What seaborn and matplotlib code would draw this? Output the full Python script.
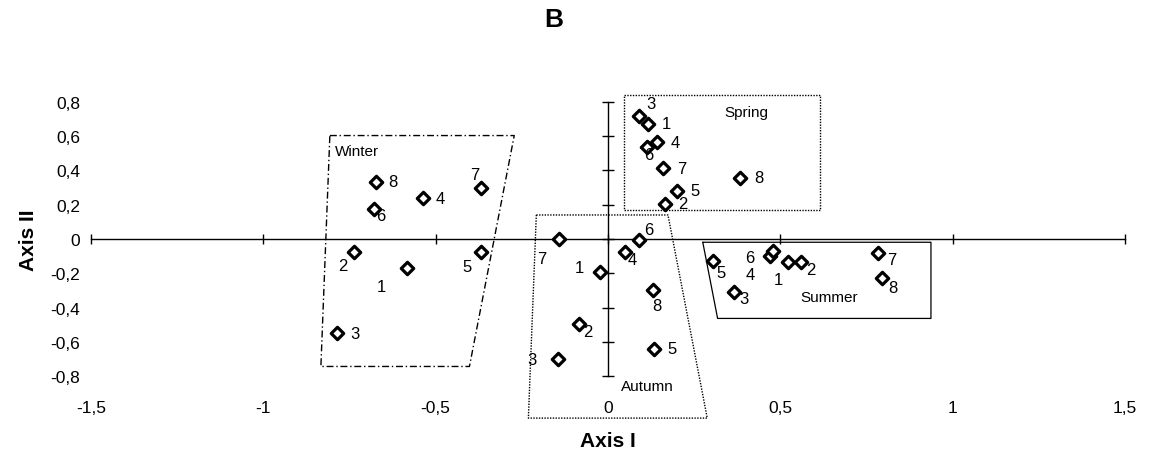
import matplotlib
matplotlib.use("Agg")
import matplotlib.pyplot as plt
import seaborn as sns
import pandas as pd

# ---------------- data ----------------
point_ids = ["1", "2", "3", "4", "5", "6", "7", "8"]

winter_x = [-0.583, -0.736, -0.786, -0.538, -0.368, -0.680, -0.368, -0.674]
winter_y = [-0.169, -0.074, -0.548, 0.237, -0.076, 0.175, 0.299, 0.334]

spring_x = [0.116, 0.165, 0.089, 0.142, 0.199, 0.113, 0.161, 0.382]
spring_y = [0.671, 0.206, 0.719, 0.564, 0.282, 0.538, 0.412, 0.356]

autumn_x = [-0.023, -0.085, -0.145, 0.050, 0.133, 0.091, -0.143, 0.132]
autumn_y = [-0.192, -0.496, -0.700, -0.078, -0.641, -0.008, 0.000, -0.295]

summer_x = [0.523, 0.559, 0.365, 0.470, 0.305, 0.480, 0.784, 0.794]
summer_y = [-0.136, -0.136, -0.311, -0.097, -0.126, -0.072, -0.082, -0.227]

# season enclosures (polygon corners in data units)
winter_box = [(-0.807, 0.603), (-0.272, 0.603), (-0.402, -0.743), (-0.833, -0.743)]
spring_box = [(0.0465, 0.840), (0.616, 0.840), (0.616, 0.169), (0.0465, 0.169)]
autumn_box = [(-0.208, 0.140), (0.174, 0.140), (0.288, -1.044), (-0.231, -1.044)]
summer_box = [(0.275, -0.019), (0.937, -0.019), (0.937, -0.463), (0.318, -0.463)]

x_ticks = [-1.5, -1.0, -0.5, 0.0, 0.5, 1.0, 1.5]
x_tick_labels = ["-1,5", "-1", "-0,5", "0", "0,5", "1", "1,5"]
y_ticks = [0.8, 0.6, 0.4, 0.2, 0.0, -0.2, -0.4, -0.6, -0.8]
y_tick_labels = ["0,8", "0,6", "0,4", "0,2", "0", "-0,2", "-0,4", "-0,6", "-0,8"]

title = "B"
x_label = "Axis I"
y_label = "Axis II"

# label offsets (pixels) for point numbers, per season, order = point_ids
winter_off = [(-26, -19), (-12, -14), (18, 0), (18, 0), (-14, -14), (7, -7), (-6, 13), (17, 0)]
spring_off = [(18, 0), (18, 0), (12, 12), (18, 0), (18, 0), (2, -8), (18, 0), (19, 0)]
autumn_off = [(-21, 4), (9, -7), (-26, 0), (7, -7), (18, 0), (9, 11), (-17, -20), (3, -16)]
summer_off = [(-10, -17), (10, -7), (10, -6), (-20, -19), (8, -12), (-24, -6), (14, -6), (11, -10)]

# ---------------- figure ----------------
sns.set_style("white")
plt.rcParams["font.family"] = ["Liberation Sans", "DejaVu Sans"]
plt.rcParams["text.color"] = "black"
plt.rcParams["axes.labelcolor"] = "black"

fig = plt.figure(figsize=(11.53, 4.56), dpi=100)
ax = fig.add_axes([91 / 1153, 1 - 394.4 / 456, 1034 / 1153, 308.8 / 456])

frames = []
for name, xs, ys in [("Winter", winter_x, winter_y), ("Spring", spring_x, spring_y),
                     ("Autumn", autumn_x, autumn_y), ("Summer", summer_x, summer_y)]:
    frames.append(pd.DataFrame({"season": name, "id": point_ids, "x": xs, "y": ys}))
df = pd.concat(frames, ignore_index=True)

sns.scatterplot(data=df, x="x", y="y", ax=ax, marker="D", s=40, color="white",
                edgecolor="black", linewidth=2.3, zorder=5, legend=False)

offsets = {"Winter": winter_off, "Spring": spring_off, "Autumn": autumn_off, "Summer": summer_off}
for season, grp in df.groupby("season", sort=False):
    offs = offsets[season]
    for i, (_, r) in enumerate(grp.iterrows()):
        ax.annotate(r["id"], (r["x"], r["y"]), xytext=offs[i], textcoords="offset pixels",
                    ha="center", va="center", fontsize=12, color="black", zorder=6)

def draw_box(corners, **kw):
    xs = [c[0] for c in corners] + [corners[0][0]]
    ys = [c[1] for c in corners] + [corners[0][1]]
    ax.plot(xs, ys, color="black", clip_on=False, **kw)

draw_box(winter_box, lw=1.0, linestyle=(0, (5, 2, 1, 2)))
draw_box(spring_box, lw=1.0, linestyle=(0, (1, 1)))
draw_box(autumn_box, lw=1.0, linestyle=(0, (1, 1)))
draw_box(summer_box, lw=0.9, linestyle="-")

ax.text(-0.791, 0.511, "Winter", ha="left", va="center", fontsize=11, color="black")
ax.text(0.401, 0.739, "Spring", ha="center", va="center", fontsize=11, color="black")
ax.text(0.113, -0.859, "Autumn", ha="center", va="center", fontsize=11, color="black")
ax.text(0.643, -0.340, "Summer", ha="center", va="center", fontsize=11, color="black")

ax.set_xlim(-1.5, 1.5)
ax.set_ylim(-0.9, 0.9)

ax.spines["left"].set_visible(False)
ax.spines["bottom"].set_visible(False)
ax.spines["right"].set_position(("data", 0))
ax.spines["right"].set_bounds(-0.8, 0.8)
ax.spines["top"].set_position(("data", 0))
ax.spines["top"].set_bounds(-1.5, 1.5)
for s in ["right", "top"]:
    ax.spines[s].set_color("black")
    ax.spines[s].set_linewidth(1.0)

ax.set_xticks(x_ticks)
ax.set_xticklabels(x_tick_labels)
ax.set_yticks(y_ticks)
ax.set_yticklabels(y_tick_labels)
ax.tick_params(axis="y", left=False, right=True, labelleft=True, labelright=False,
               direction="inout", length=8, width=1, pad=4, labelsize=12.5, colors="black")
ax.tick_params(axis="x", bottom=False, top=True, labelbottom=True, labeltop=False,
               direction="inout", length=7, width=1, pad=1.5, labelsize=12.5, colors="black")

ax.set_xlabel(x_label, fontsize=15, fontweight="bold", labelpad=11, color="black")
ax.set_ylabel(y_label, fontsize=15, fontweight="bold", labelpad=9, color="black")
fig.text(554 / 1153, 1 - 20 / 456, title, ha="center", va="center", fontsize=19,
         fontweight="bold", color="black")

fig.savefig("out.png", dpi=100)
